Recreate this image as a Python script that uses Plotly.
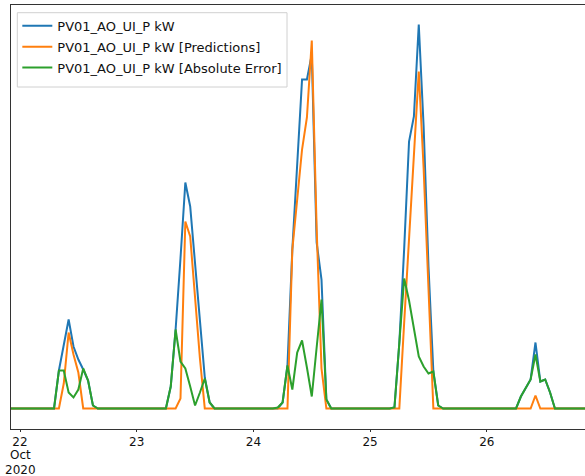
import pandas as pd
import plotly.graph_objects as go

# Hourly values (kW), Oct 21 22:00 .. Oct 26 23:00
actual_oct21 = [0, 0]
actual_oct22 = [0,0,0,0,0,0,0,0, 3.8,6.3,8.9,6.2,4.9,3.9,2.8,0.3, 0,0,0,0,0,0,0,0]
actual_oct23 = [0,0,0,0,0,0,0,2.2, 7.9,15.0,22.6,20.2,14.6,9.2,3.1,0.6, 0,0,0,0,0,0,0,0]
actual_oct24 = [0,0,0,0,0,0,0.6,4.3, 15.9,25.1,32.9,32.9,35.4,16.6,12.9,0.9, 0,0,0,0,0,0,0,0]
actual_oct25 = [0,0,0,0,0,0.1,6.5,16.0, 26.7,29.2,38.4,28.2,14.2,3.7,0.3,0, 0,0,0,0,0,0,0,0]
actual_oct26 = [0,0,0,0,0,0,0,1.2, 2.1,2.9,6.6,2.7,2.9,1.6,0,0, 0,0,0,0,0,0,0,0]

pred_oct21 = [0, 0]
pred_oct22 = [0,0,0,0,0,0,0,0, 0,2.5,7.6,5.4,3.6,0,0,0, 0,0,0,0,0,0,0,0]
pred_oct23 = [0,0,0,0,0,0,0,0, 0,1.0,18.7,17.2,10.9,5.0,0,0, 0,0,0,0,0,0,0,0]
pred_oct24 = [0,0,0,0,0,0,0,0, 15.9,20.9,25.9,29.1,36.8,18.0,4.0,0, 0,0,0,0,0,0,0,0]
pred_oct25 = [0,0,0,0,0,0,0,8.6, 17.0,25.4,33.7,24.0,11.0,0,0,0, 0,0,0,0,0,0,0,0]
pred_oct26 = [0,0,0,0,0,0,0,0, 0,0,1.3,0,0,0,0,0, 0,0,0,0,0,0,0,0]

err_oct21 = [0, 0]
err_oct22 = [0,0,0,0,0,0,0,0, 3.8,3.8,1.6,1.1,1.9,4.0,2.8,0.3, 0,0,0,0,0,0,0,0]
err_oct23 = [0,0,0,0,0,0,0,2.2, 7.9,4.7,4.0,2.2,0.3,1.6,3.0,0.6, 0,0,0,0,0,0,0,0]
err_oct24 = [0,0,0,0,0,0.1,0.6,4.3, 1.9,5.6,6.8,4.1,1.2,6.1,10.9,0.9, 0,0,0,0,0,0,0,0]
err_oct25 = [0,0,0,0,0,0.1,6.5,13.0, 10.8,7.8,5.2,4.2,3.5,3.7,0.3,0, 0,0,0,0,0,0,0,0]
err_oct26 = [0,0,0,0,0,0,0,1.2, 2.1,2.9,5.4,2.7,2.9,1.6,0,0, 0,0,0,0,0,0,0,0]

actual = actual_oct21 + actual_oct22 + actual_oct23 + actual_oct24 + actual_oct25 + actual_oct26
pred = pred_oct21 + pred_oct22 + pred_oct23 + pred_oct24 + pred_oct25 + pred_oct26
err = err_oct21 + err_oct22 + err_oct23 + err_oct24 + err_oct25 + err_oct26
times = pd.date_range("2020-10-21 22:00", periods=len(actual), freq="h")

series_names = ["PV01_AO_UI_P kW", "PV01_AO_UI_P kW [Predictions]", "PV01_AO_UI_P kW [Absolute Error]"]
tick_dates = ["2020-10-22", "2020-10-23", "2020-10-24", "2020-10-25", "2020-10-26"]
tick_labels = ["22", "23", "24", "25", "26"]
first_tick_sublabels = ["Oct", "2020"]
colors = ["#1f77b4", "#ff7f0e", "#2ca02c"]

W, H = 585, 476
ML, MT, MB = 11, 5, 47
PH = H - MT - MB
PW = W - ML


def py(ypx):
    return (H - MB - ypx) / PH


def px(xpx):
    return (xpx - ML) / PW


fig = go.Figure()
for i, (name, vals, col) in enumerate(zip(series_names, [actual, pred, err], colors)):
    fig.add_trace(go.Scatter(x=times, y=vals, mode="lines", name=name,
                             legendgroup=f"g{i}",
                             line=dict(color=col, width=2)))

# legend frame (matplotlib-like)
fig.add_shape(type="rect", xref="paper", yref="paper",
              x0=px(17.3), x1=px(287), y0=py(87), y1=py(12.7),
              line=dict(color="#d0d0d0", width=1),
              fillcolor="rgba(255,255,255,0.8)", layer="above")

for j, (txt, ypos) in enumerate(zip(first_tick_sublabels, [455, 470])):
    fig.add_annotation(x=tick_dates[0], xref="x", y=py(ypos), yref="paper",
                       text=txt, showarrow=False, yanchor="middle", xanchor="center",
                       font=dict(family="DejaVu Sans", size=12, color="#111"))

fig.update_layout(
    width=W, height=H,
    margin=dict(l=ML, r=0, t=MT, b=MB),
    paper_bgcolor="white", plot_bgcolor="white",
    font=dict(family="DejaVu Sans", size=13, color="black"),
    showlegend=True,
    legend=dict(x=0.011, y=py(10.8), xanchor="left", yanchor="top",
                tracegroupgap=1,
                bgcolor="rgba(0,0,0,0)", borderwidth=0,
                font=dict(family="DejaVu Sans", size=13, color="#111")),
)
fig.update_xaxes(range=["2020-10-21 22:09", "2020-10-26 20:11"],
                 automargin=False,
                 tickmode="array", tickvals=tick_dates, ticktext=tick_labels,
                 ticks="outside", ticklen=2, tickcolor="#333",
                 showgrid=False, zeroline=False, showline=True, linecolor="#333",
                 linewidth=1, mirror=True, tickfont=dict(size=12, color="#111"))
fig.update_yaxes(range=[-2.05, 40.35], automargin=False,
                 showticklabels=False, ticks="",
                 showgrid=False, zeroline=False, showline=True, linecolor="#333",
                 linewidth=1)

fig.write_html("out.html", config={"displayModeBar": False},
               post_script="document.body.style.margin='0px';document.body.style.padding='0px';")
